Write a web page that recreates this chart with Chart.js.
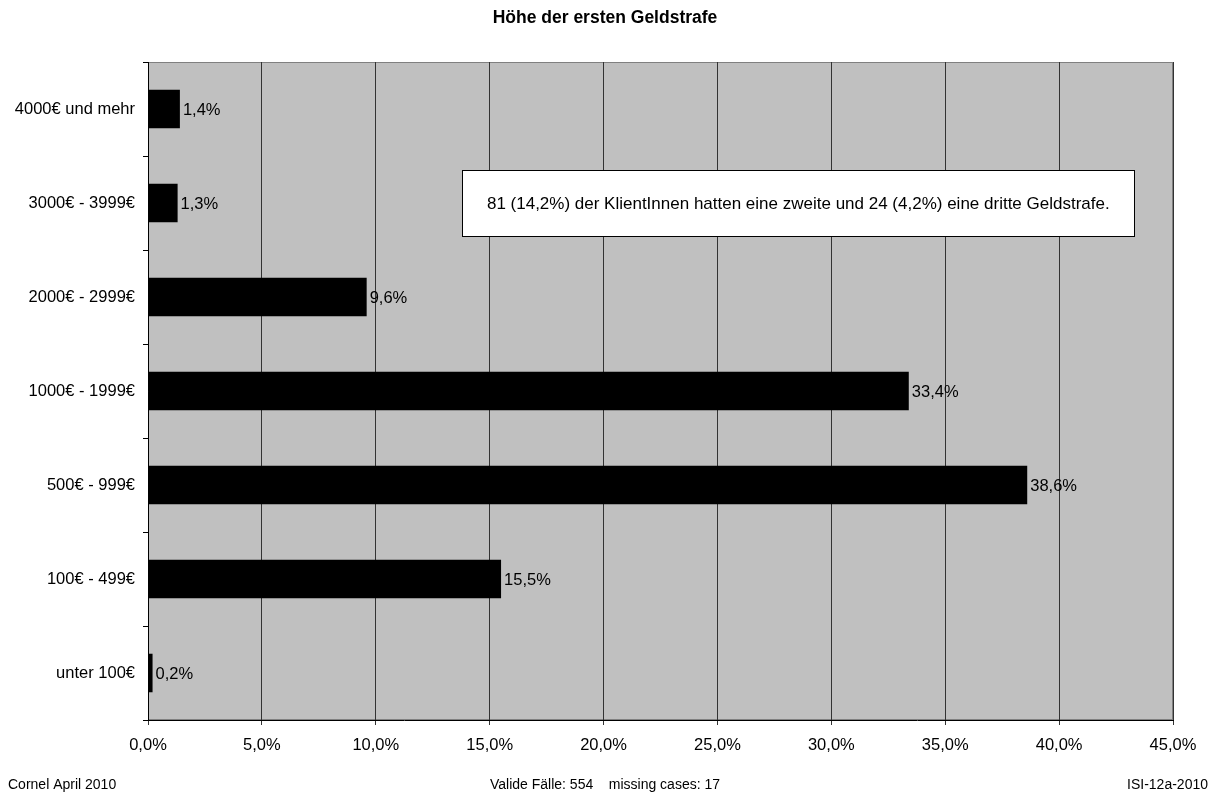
<!DOCTYPE html>
<html>
<head>
<meta charset="utf-8">
<script src="https://cdn.jsdelivr.net/npm/chart.js@4.4.1/dist/chart.umd.min.js"></script>
<style>
  html, body { margin: 0; padding: 0; background: #fff; }
  #wrap { width: 1215px; height: 794px; }
</style>
</head>
<body>
<div id="wrap"><canvas id="chart" width="1215" height="794"></canvas></div>
<script>
// top to bottom, as shown
const categories = ['4000€ und mehr', '3000€ - 3999€', '2000€ - 2999€', '1000€ - 1999€', '500€ - 999€', '100€ - 499€', 'unter 100€'];
const shares = [1.4, 1.3, 9.6, 33.4, 38.6, 15.5, 0.2];
const xTicks = [0, 5, 10, 15, 20, 25, 30, 35, 40, 45];
const xTickLabels = ['0,0%', '5,0%', '10,0%', '15,0%', '20,0%', '25,0%', '30,0%', '35,0%', '40,0%', '45,0%'];

const chartTitle = 'Höhe der ersten Geldstrafe';
const noteText = '81 (14,2%) der KlientInnen hatten eine zweite und 24 (4,2%) eine dritte Geldstrafe.';
const footLeft = 'Cornel April 2010';
const footMid = 'Valide Fälle: 554    missing cases: 17';
const footRight = 'ISI-12a-2010';

const FONT = 'Arial, "Liberation Sans", sans-serif';
const fmt = v => Number(v).toFixed(1).replace('.', ',') + '%';

const plotBg = {
    id: 'plotBg',
    beforeDraw(chart) {
        const { ctx, chartArea: a } = chart;
        ctx.save();
        ctx.fillStyle = '#c0c0c0';
        ctx.fillRect(a.left, a.top, a.right - a.left, a.bottom - a.top);
        ctx.strokeStyle = '#808080';
        ctx.lineWidth = 1;
        ctx.strokeRect(a.left + 0.5, a.top + 0.5, a.right - a.left - 1, a.bottom - a.top - 1);
        ctx.restore();
    }
};

const extras = {
    id: 'extras',
    afterDatasetsDraw(chart) {
        const { ctx } = chart;
        const meta = chart.getDatasetMeta(0);
        ctx.save();
        ctx.font = '16.5px ' + FONT;
        ctx.fillStyle = '#000';
        ctx.textBaseline = 'middle';
        ctx.textAlign = 'left';
        meta.data.forEach((bar, i) => {
            ctx.fillText(fmt(shares[i]), bar.x + 3, Math.round(bar.y) + 1);
        });
        ctx.restore();
    },
    afterDraw(chart) {
        const { ctx } = chart;
        const x = chart.scales.x;
        ctx.save();
        // x tick labels
        ctx.fillStyle = '#000';
        ctx.font = '16.5px ' + FONT;
        ctx.textAlign = 'center';
        ctx.textBaseline = 'middle';
        xTicks.forEach((v, i) => {
            ctx.fillText(xTickLabels[i], x.getPixelForValue(v), chart.chartArea.bottom + 25);
        });
        // note box
        const bx = x.getPixelForValue(13.8), ex = x.getPixelForValue(43.3);
        ctx.fillStyle = '#fff';
        ctx.fillRect(bx, 170, ex - bx, 67);
        ctx.strokeStyle = '#000';
        ctx.lineWidth = 1;
        ctx.strokeRect(Math.round(bx) + 0.5, 170.5, Math.round(ex - bx), 66);
        ctx.fillStyle = '#000';
        ctx.font = '17px ' + FONT;
        ctx.fillText(noteText, (bx + ex) / 2, 204);
        // title
        ctx.font = 'bold 17.5px ' + FONT;
        ctx.fillText(chartTitle, 605, 18);
        // footer
        ctx.font = '14px ' + FONT;
        ctx.textAlign = 'left';
        ctx.fillText(footLeft, 8, 785);
        ctx.textAlign = 'center';
        ctx.fillText(footMid, 605, 785);
        ctx.textAlign = 'right';
        ctx.fillText(footRight, 1208, 785);
        ctx.restore();
    }
};

new Chart(document.getElementById('chart'), {
    type: 'bar',
    data: {
        labels: categories,
        datasets: [{
            data: shares,
            backgroundColor: '#000',
            borderWidth: 0,
            categoryPercentage: 1,
            barPercentage: 0.41
        }]
    },
    options: {
        indexAxis: 'y',
        responsive: false,
        animation: false,
        layout: { padding: { top: 62, right: 42, bottom: 44, left: 0 } },
        plugins: {
            legend: { display: false },
            tooltip: { enabled: false }
        },
        scales: {
            x: {
                min: 0,
                max: 45,
                afterBuildTicks: scale => { scale.ticks = xTicks.map(v => ({ value: v })); },
                afterFit: scale => { scale.height = 30; },
                border: { display: true, color: '#000', width: 1 },
                grid: { color: '#333', lineWidth: 1, tickLength: 5, drawTicks: true },
                ticks: { display: false }
            },
            y: {
                afterFit: scale => { scale.width = 148; },
                border: { display: true, color: '#000', width: 1 },
                grid: { offset: true, drawOnChartArea: false, color: '#000', tickLength: 5 },
                ticks: {
                    color: '#000',
                    font: { family: FONT, size: 16.5 },
                    padding: 8
                }
            }
        }
    },
    plugins: [plotBg, extras]
});
</script>
</body>
</html>
